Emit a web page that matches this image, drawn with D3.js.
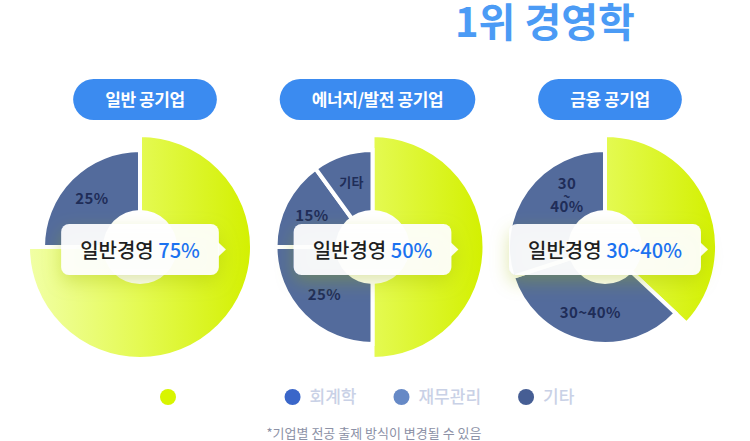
<!DOCTYPE html>
<html>
<head>
<meta charset="utf-8">
<script src="https://cdn.jsdelivr.net/npm/d3@7"></script>
<style>
  body { margin: 0; background: #fff; }
  svg { font-family: "Noto Sans CJK KR", "Noto Sans", sans-serif; display: block; }
</style>
</head>
<body>
<div id="app"></div>
<script>
// chart data
const title = '1위 경영학';
const groups = ['일반 공기업', '에너지/발전 공기업', '금융 공기업'];
const mainName = '일반경영';
const mainValues = ['75%', '50%', '30~40%'];
const sliceValues = [[75, 25], [50, 25, 15, 10], [37, 33, 30]];
const sliceLabels = [['', '25%'], ['', '25%', '15%', '기타'], ['', '30~40%', '30\n~\n40%']];
const legendNames = ['일반경영', '회계학', '재무관리', '기타'];
const footnote = '*기업별 전공 출제 방식이 변경될 수 있음';

const width = 750, height = 441;
const legendColors = ['#d8f500', '#3a66c9', '#6689c6', '#465e94'];

const svg = d3.select('#app').append('svg')
  .attr('width', width)
  .attr('height', height);

const defs = svg.append('defs');
const shadow = defs.append('filter').attr('id', 'shadow')
  .attr('x', '-30%').attr('y', '-40%').attr('width', '160%').attr('height', '200%');
shadow.append('feDropShadow')
  .attr('dx', 0).attr('dy', 7).attr('stdDeviation', 9)
  .attr('flood-color', '#9db500').attr('flood-opacity', 0.35);

// title
svg.append('text')
  .attr('x', 455).attr('y', 37)
  .attr('font-size', 40).attr('font-weight', 700)
  .attr('fill', '#4b9bf5')
  .text(title);

const x = d3.scalePoint().domain(groups).range([140, 605]);
const cy = 247;
const rMain = 112, rOther = 97, rHole = 37, rLabel = 68;

const pie = d3.pie().sort(null).value(d => d);
const arcMain = d3.arc().innerRadius(0).outerRadius(rMain);
const arcOther = d3.arc().innerRadius(0).outerRadius(rOther);
const arcLabel = d3.arc().innerRadius(rLabel).outerRadius(rLabel);

groups.forEach((g, i) => {
  const cx = x(g);

  // pill heading
  const pill = svg.append('g').attr('transform', `translate(${cx + 5},99.5)`);
  const pt = pill.append('text')
    .attr('text-anchor', 'middle').attr('y', 6)
    .attr('font-size', 17).attr('font-weight', 700)
    .attr('letter-spacing', -0.4)
    .attr('fill', '#fff')
    .text(g);
  const pw = pt.node().getComputedTextLength() + 64;
  pill.insert('rect', 'text')
    .attr('x', -pw / 2).attr('y', -20.5)
    .attr('width', pw).attr('height', 41)
    .attr('rx', 20.5)
    .attr('fill', '#3b8bf0');

  // gradient for the main slice (local coordinates of the pie group)
  const grad = defs.append('linearGradient').attr('id', 'grad' + i)
    .attr('gradientUnits', 'userSpaceOnUse')
    .attr('x1', -rMain).attr('x2', rMain).attr('y1', 0).attr('y2', 0);
  grad.append('stop').attr('offset', 0).attr('stop-color', '#f1ffa6');
  grad.append('stop').attr('offset', 0.5).attr('stop-color', '#e4fa52');
  grad.append('stop').attr('offset', 1).attr('stop-color', '#d3f000');

  const arcs = pie.startAngle(0).endAngle(2 * Math.PI)(sliceValues[i]);
  const pg = svg.append('g').attr('transform', `translate(${cx},${cy})`);

  pg.selectAll('path')
    .data(arcs)
    .join('path')
    .attr('d', d => d.index === 0 ? arcMain(d) : arcOther(d))
    .attr('fill', d => d.index === 0 ? `url(#grad${i})` : '#536b9c')
    .attr('stroke', '#fff')
    .attr('stroke-width', 4)
    .attr('stroke-linejoin', 'miter');

  pg.append('circle').attr('r', rHole).attr('fill', '#fff');

  // slice labels; wrapped labels stack upward from the centroid
  pg.selectAll('text.slice')
    .data(arcs.filter(d => d.index > 0))
    .join('text')
    .attr('class', 'slice')
    .attr('text-anchor', 'middle')
    .attr('font-weight', 700)
    .attr('fill', '#1f2d58')
    .attr('font-size', d => sliceLabels[i][d.index] === '기타' ? 13 : 15)
    .attr('letter-spacing', 0.4)
    .each(function (d) {
      const [lx, ly] = arcLabel.centroid(d);
      const lines = sliceLabels[i][d.index].split('\n');
      const t = d3.select(this);
      lines.forEach((ln, k) => {
        t.append('tspan')
          .attr('x', lx + (lines.length > 1 ? 17 : 0))
          .attr('y', ly + 5 + (k - (lines.length - 1)) * 11.5)
          .attr('font-size', ln === '~' ? 12 : null)
          .text(ln);
      });
    });

  // callout box
  const cg = svg.append('g').attr('transform', `translate(${cx},${cy})`);
  const ct = cg.append('text')
    .attr('text-anchor', 'middle').attr('y', 11)
    .attr('font-size', 20).attr('font-weight', 500);
  ct.append('tspan').attr('fill', '#1f1f1f').text(mainName + ' ');
  ct.append('tspan').attr('fill', '#1b72f0').text(mainValues[i]);
  const cw = ct.node().getComputedTextLength() + 38;
  const box = cg.insert('g', 'text').attr('filter', 'url(#shadow)');
  box.append('rect')
    .attr('x', -cw / 2).attr('y', -23)
    .attr('width', cw).attr('height', 51)
    .attr('rx', 8)
    .attr('fill', '#fff').attr('fill-opacity', 0.93);
  box.append('path')
    .attr('d', `M${cw / 2 - 1},-5 L${cw / 2 + 7},2.5 L${cw / 2 - 1},10 Z`)
    .attr('fill', '#fff').attr('fill-opacity', 0.93);
});

// legend
const lg = svg.append('g').attr('transform', 'translate(0,397)');
let lx = 160;
legendNames.forEach((name, i) => {
  lg.append('circle').attr('cx', lx + 8).attr('cy', 0).attr('r', 8).attr('fill', legendColors[i]);
  const t = lg.append('text')
    .attr('x', lx + 25).attr('y', 6)
    .attr('font-size', 17).attr('font-weight', 500)
    .attr('fill', i === 0 ? '#fff' : '#c9d1e6')
    .text(name);
  lx += 25 + t.node().getComputedTextLength() + 37;
});

svg.append('text')
  .attr('x', 374).attr('y', 438)
  .attr('text-anchor', 'middle')
  .attr('font-size', 13)
  .attr('fill', '#8c91a6')
  .text(footnote);
</script>
</body>
</html>
